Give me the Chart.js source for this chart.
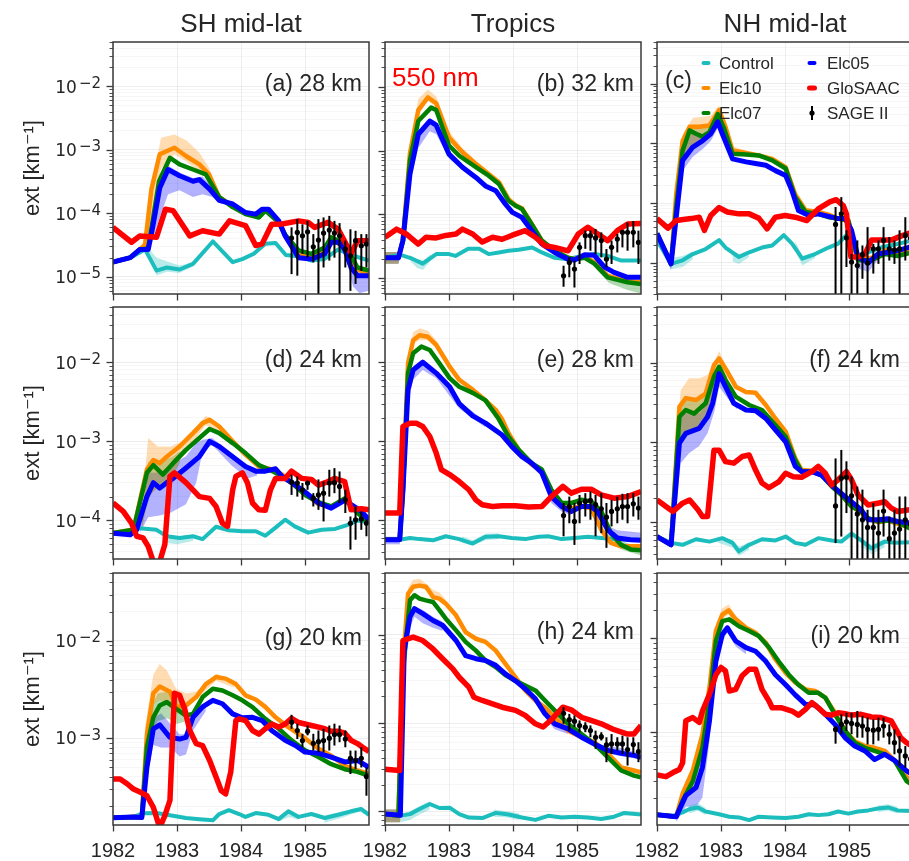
<!DOCTYPE html>
<html>
<head>
<meta charset="utf-8">
<script src="https://cdn.jsdelivr.net/npm/chart.js@4.4.1/dist/chart.umd.min.js"></script>
<style>
  html, body { margin: 0; padding: 0; background: #fff; overflow: hidden; }
  #fig { position: relative; width: 909px; height: 861px; overflow: hidden; }
  #fig canvas { position: absolute; }
</style>
</head>
<body>
<div id="fig"></div>
<script>
// ---- axis labels ----
const columnTitles = ["SH mid-lat", "Tropics", "NH mid-lat"];
const yearTicks = [1982, 1983, 1984, 1985];
const yTop = 0.05;

// SAGE II monthly sample times (shared by all panels)
const sageYears = [1984.79, 1984.88, 1984.96, 1985.04, 1985.13, 1985.21, 1985.29, 1985.38,
  1985.46, 1985.54, 1985.63, 1985.71, 1985.79, 1985.88, 1985.96];

// ---- (a) SH mid-lat, 28 km ----
const ctlA = [[1982.0,1.7e-5],[1982.27,2.0e-5],[1982.5,2.7e-5],[1982.68,1.25e-5],[1982.84,1.4e-5],[1983.04,1.3e-5],[1983.25,1.6e-5],[1983.56,3.6e-5],[1983.87,1.7e-5],[1984.02,1.9e-5],[1984.2,2.3e-5],[1984.38,3.3e-5],[1984.54,3.4e-5],[1984.7,2.2e-5],[1984.9,2.1e-5],[1985.1,1.8e-5],[1985.3,1.9e-5],[1985.52,2.7e-5],[1985.72,2.2e-5],[1986.0,1.8e-5]];
const e10A = [[1982.0,1.7e-5],[1982.27,2.0e-5],[1982.42,2.7e-5],[1982.5,3.2e-5],[1982.6,2.4e-4],[1982.73,8.5e-4],[1982.96,1.08e-3],[1983.14,8.0e-4],[1983.35,5.9e-4],[1983.5,4.1e-4],[1983.66,1.8e-4],[1983.87,1.3e-4],[1984.07,1.0e-4],[1984.28,8.8e-5],[1984.38,1.15e-4],[1984.59,7.2e-5],[1984.69,4.5e-5],[1984.9,2.3e-5],[1985.1,2.2e-5],[1985.31,2.7e-5],[1985.41,3.8e-5],[1985.62,3.0e-5],[1985.82,1.3e-5],[1986.0,1.1e-5]];
const e07A = [[1982.0,1.7e-5],[1982.27,2.0e-5],[1982.42,2.7e-5],[1982.55,2.8e-5],[1982.72,3.2e-4],[1982.89,7.5e-4],[1983.04,5.9e-4],[1983.25,4.9e-4],[1983.45,4.1e-4],[1983.66,1.8e-4],[1983.87,1.25e-4],[1984.07,9.7e-5],[1984.28,8.6e-5],[1984.38,1.1e-4],[1984.59,7.2e-5],[1984.69,4.6e-5],[1984.9,2.6e-5],[1985.1,2.3e-5],[1985.31,2.9e-5],[1985.41,4.2e-5],[1985.62,3.3e-5],[1985.82,1.4e-5],[1986.0,1.25e-5]];
const e05A = [[1982.0,1.7e-5],[1982.27,2.0e-5],[1982.42,2.7e-5],[1982.55,2.7e-5],[1982.6,4.7e-5],[1982.73,2.5e-4],[1982.86,4.9e-4],[1983.04,3.9e-4],[1983.25,3.2e-4],[1983.35,3.4e-4],[1983.51,2.4e-4],[1983.66,1.6e-4],[1983.87,1.4e-4],[1984.07,1.03e-4],[1984.23,9.7e-5],[1984.33,1.16e-4],[1984.43,1.16e-4],[1984.59,7.6e-5],[1984.69,4.4e-5],[1984.9,2.0e-5],[1985.1,1.9e-5],[1985.31,2.3e-5],[1985.41,3.5e-5],[1985.52,3.5e-5],[1985.62,2.7e-5],[1985.72,1.4e-5],[1985.82,1.04e-5],[1986.0,1.04e-5]];
const gloA = [[1982.0,6.0e-5],[1982.29,3.5e-5],[1982.42,4.4e-5],[1982.68,4.2e-5],[1982.82,1.16e-4],[1982.94,1.1e-4],[1983.2,4.4e-5],[1983.4,5.3e-5],[1983.66,4.7e-5],[1983.82,7.6e-5],[1984.07,6.4e-5],[1984.23,3.1e-5],[1984.33,3.3e-5],[1984.48,6.7e-5],[1984.64,6.8e-5],[1984.9,7.6e-5],[1985.05,7.2e-5],[1985.15,6.0e-5],[1985.36,7.2e-5],[1985.52,5.6e-5],[1985.67,2.9e-5],[1985.72,2.3e-5],[1985.82,3.7e-5],[1986.0,3.7e-5]];
const sageA = [[4.07e-5,1.1e-5,6.0e-5],[5.0e-5,1.04e-5,8.1e-5],[4.43e-5,2.3e-5,6.7e-5],[5.1e-5,2.0e-5,7.6e-5],[2.97e-5,1.68e-5,4.7e-5],[3.78e-5,1e-7,8.1e-5],[4.87e-5,1.4e-5,8.6e-5],[5.43e-5,1.8e-5,9.1e-5],[4.87e-5,2.0e-5,7.6e-5],[4.43e-5,1e-7,7.0e-5],[2.73e-5,1.4e-5,3.7e-5],[2.14e-5,6e-6,5.6e-5],[3.7e-5,7.7e-6,5.3e-5],[3.08e-5,1.24e-5,4.7e-5],[3.27e-5,1.4e-5,4.7e-5]];
const bandsA = [
  { of: "ctl", pts: [[1982.55,2.3e-5,2.9e-5],[1982.68,1.05e-5,2.0e-5],[1982.84,1.2e-5,1.75e-5],[1983.04,1.15e-5,1.5e-5],[1983.25,1.45e-5,1.7e-5]] },
  { of: "e10", pts: [[1982.5,3.0e-5,3.4e-5],[1982.65,1.5e-4,4.5e-4],[1982.75,5e-4,1.55e-3],[1982.96,8.5e-4,1.75e-3],[1983.15,6.5e-4,1.4e-3],[1983.35,4.5e-4,9e-4],[1983.5,3.3e-4,5.2e-4],[1983.66,1.6e-4,2.0e-4]] },
  { of: "e05", pts: [[1982.55,2.5e-5,3.0e-5],[1982.68,6e-5,2.0e-4],[1982.86,2.0e-4,5.6e-4],[1983.04,2.3e-4,4.4e-4],[1983.25,1.8e-4,3.6e-4],[1983.4,2.0e-4,3.8e-4],[1983.55,1.8e-4,2.6e-4],[1983.7,1.4e-4,1.7e-4]] },
  { of: "e05", pts: [[1985.62,2.3e-5,3.2e-5],[1985.75,7e-6,1.6e-5],[1985.85,5.5e-6,1.2e-5],[1986.0,6e-6,1.2e-5]] }
];

// ---- (b) Tropics, 32 km ----
const ctlB = [[1982.0,2.1e-5],[1982.23,2.35e-5],[1982.39,2.1e-5],[1982.59,1.7e-5],[1982.8,2.4e-5],[1983.0,2.4e-5],[1983.1,2.25e-5],[1983.3,2.9e-5],[1983.47,2.9e-5],[1983.62,2.4e-5],[1983.78,2.55e-5],[1983.93,2.7e-5],[1984.09,2.8e-5],[1984.3,3.05e-5],[1984.45,2.55e-5],[1984.65,2.1e-5],[1984.86,2.0e-5],[1985.07,2.25e-5],[1985.27,2.4e-5],[1985.48,2.25e-5],[1985.69,1.9e-5],[1986.0,1.9e-5]];
const e10B = [[1982.0,2.1e-5],[1982.21,2.1e-5],[1982.28,4e-5],[1982.39,9e-4],[1982.52,4.3e-3],[1982.67,6.8e-3],[1982.8,5.5e-3],[1983.0,1.6e-3],[1983.21,9.4e-4],[1983.42,6.2e-4],[1983.62,4.3e-4],[1983.78,3.2e-4],[1983.93,1.74e-4],[1984.04,1.4e-4],[1984.14,1.25e-4],[1984.29,7.2e-5],[1984.45,3.9e-5],[1984.65,2.7e-5],[1984.86,2.1e-5],[1984.96,2.0e-5],[1985.12,2.2e-5],[1985.27,1.8e-5],[1985.48,1.1e-5],[1985.79,9e-6],[1986.0,8.7e-6]];
const e07B = [[1982.0,2.1e-5],[1982.21,2.1e-5],[1982.28,3.9e-5],[1982.39,7e-4],[1982.52,2.9e-3],[1982.72,4.7e-3],[1982.8,4.3e-3],[1983.0,1.2e-3],[1983.16,8.3e-4],[1983.42,5.5e-4],[1983.62,4.05e-4],[1983.78,3.0e-4],[1983.93,1.64e-4],[1984.04,1.37e-4],[1984.14,1.22e-4],[1984.29,7.1e-5],[1984.45,3.9e-5],[1984.65,2.7e-5],[1984.86,2.1e-5],[1984.96,2.0e-5],[1985.12,2.1e-5],[1985.27,1.7e-5],[1985.48,1.04e-5],[1985.79,8.7e-6],[1986.0,8.2e-6]];
const e05B = [[1982.0,2.1e-5],[1982.21,2.1e-5],[1982.28,3.9e-5],[1982.39,4.3e-4],[1982.52,1.8e-3],[1982.7,2.9e-3],[1982.8,2.5e-3],[1983.0,8.8e-4],[1983.21,5.5e-4],[1983.42,3.8e-4],[1983.57,2.8e-4],[1983.73,2.36e-4],[1983.88,1.46e-4],[1983.99,1.08e-4],[1984.14,9.0e-5],[1984.29,5.6e-5],[1984.45,3.45e-5],[1984.65,2.55e-5],[1984.86,2.0e-5],[1984.96,1.94e-5],[1985.12,2.35e-5],[1985.27,2.3e-5],[1985.43,1.5e-5],[1985.58,1.24e-5],[1985.79,1.04e-5],[1986.0,1.04e-5]];
const gloB = [[1982.0,4.4e-5],[1982.18,5.9e-5],[1982.34,4.9e-5],[1982.52,3.45e-5],[1982.64,4.4e-5],[1982.8,4.3e-5],[1982.95,4.7e-5],[1983.11,4.95e-5],[1983.21,5.9e-5],[1983.37,4.95e-5],[1983.52,3.7e-5],[1983.68,4.4e-5],[1983.83,4.1e-5],[1983.98,4.7e-5],[1984.19,5.6e-5],[1984.35,4.4e-5],[1984.5,3.25e-5],[1984.65,3.06e-5],[1984.86,2.7e-5],[1985.02,4.95e-5],[1985.17,6.3e-5],[1985.32,5.0e-5],[1985.48,3.9e-5],[1985.63,5.6e-5],[1985.79,7.1e-5],[1986.0,7.2e-5]];
const sageB = [[1.1e-5,7.4e-6,1.58e-5],[1.78e-5,1.04e-5,2.13e-5],[1.4e-5,7.2e-6,1.89e-5],[3.06e-5,1.68e-5,3.66e-5],[4.66e-5,2.9e-5,5.6e-5],[4.66e-5,2.71e-5,5.6e-5],[4.3e-5,2.41e-5,5.93e-5],[3.9e-5,2.13e-5,5.25e-5],[2.01e-5,1.49e-5,2.88e-5],[3.06e-5,1.68e-5,3.9e-5],[4.13e-5,2.55e-5,4.95e-5],[5.25e-5,3.06e-5,5.6e-5],[5.25e-5,2.71e-5,7.5e-5],[5.25e-5,3.06e-5,7.9e-5],[3.66e-5,1.68e-5,5.6e-5]];
const bandsB = [
  { of: "e10", pts: [[1982.0,1.7e-5,2.6e-5],[1982.21,1.7e-5,2.6e-5],[1982.28,3.5e-5,5e-5],[1982.39,6e-4,1.1e-3],[1982.52,3.6e-3,6.5e-3],[1982.67,6.0e-3,9.0e-3],[1982.8,4.8e-3,7.0e-3],[1983.0,1.45e-3,2.0e-3],[1983.21,8.5e-4,1.1e-3],[1983.42,5.8e-4,7.0e-4]] },
  { of: "e07", pts: [[1982.0,1.7e-5,2.6e-5],[1982.21,1.7e-5,2.6e-5],[1982.28,3.5e-5,4.5e-5]] },
  { of: "e05", pts: [[1982.0,1.7e-5,2.6e-5],[1982.21,1.7e-5,2.6e-5],[1982.28,3.2e-5,4.5e-5],[1982.39,3.0e-4,5.0e-4],[1982.52,1.1e-3,2.0e-3],[1982.7,2.0e-3,3.2e-3],[1982.8,1.8e-3,2.8e-3],[1983.0,7.5e-4,9.5e-4],[1983.21,5.0e-4,5.8e-4]] },
  { of: "ctl", pts: [[1982.39,1.9e-5,2.3e-5],[1982.5,1.45e-5,2.0e-5],[1982.59,1.35e-5,1.9e-5],[1982.72,1.9e-5,2.4e-5]] },
  { of: "e07", pts: [[1985.3,1.4e-5,1.8e-5],[1985.5,8.5e-6,1.15e-5],[1985.8,6.5e-6,9.5e-6],[1986.0,5.8e-6,9e-6]] }
];

// ---- (c) NH mid-lat, 28 km ----
const ctlC = [[1982.0,2.4e-5],[1982.22,9.6e-6],[1982.4,1.1e-5],[1982.56,1.4e-5],[1982.76,1.7e-5],[1982.97,2.4e-5],[1983.07,1.8e-5],[1983.28,1.25e-5],[1983.44,1.5e-5],[1983.64,1.8e-5],[1983.8,1.95e-5],[1983.98,2.9e-5],[1984.11,2.1e-5],[1984.27,1.17e-5],[1984.47,1.4e-5],[1984.68,1.8e-5],[1984.83,2.1e-5],[1984.96,2.9e-5],[1985.15,1.2e-5],[1985.3,1.5e-5],[1985.5,1.8e-5],[1985.7,2.0e-5],[1986.0,2.4e-5]];
const e10C = [[1982.0,3.1e-5],[1982.22,9.6e-6],[1982.3,1.4e-4],[1982.4,1.1e-3],[1982.51,1.9e-3],[1982.66,1.9e-3],[1982.82,2.0e-3],[1982.97,3.6e-3],[1983.07,1.9e-3],[1983.18,7.6e-4],[1983.39,6.9e-4],[1983.59,6.3e-4],[1983.8,5.5e-4],[1984.01,4.0e-4],[1984.16,1.4e-4],[1984.32,7.6e-5],[1984.52,7.1e-5],[1984.68,6.4e-5],[1984.83,5.5e-5],[1984.99,5.1e-5],[1985.14,1.2e-5],[1985.35,1.2e-5],[1985.56,1.6e-5],[1985.76,1.5e-5],[1986.0,1.7e-5]];
const e07C = [[1982.0,3.1e-5],[1982.22,9.6e-6],[1982.3,8.6e-5],[1982.4,7.6e-4],[1982.51,1.65e-3],[1982.61,1.45e-3],[1982.71,1.3e-3],[1982.82,1.55e-3],[1982.95,3.1e-3],[1983.05,1.76e-3],[1983.18,6.7e-4],[1983.39,6.5e-4],[1983.59,6.3e-4],[1983.8,5.2e-4],[1984.01,3.8e-4],[1984.16,1.26e-4],[1984.32,7.1e-5],[1984.52,6.6e-5],[1984.68,5.8e-5],[1984.83,5.5e-5],[1984.99,5.1e-5],[1985.14,1.1e-5],[1985.35,1.1e-5],[1985.56,1.4e-5],[1985.76,1.3e-5],[1986.0,1.5e-5]];
const e05C = [[1982.0,3.1e-5],[1982.22,9.6e-6],[1982.3,5.8e-5],[1982.4,5.2e-4],[1982.56,8.7e-4],[1982.71,1.1e-3],[1982.84,1.45e-3],[1982.95,2.3e-3],[1983.02,1.45e-3],[1983.18,5.5e-4],[1983.39,4.9e-4],[1983.54,4.6e-4],[1983.7,4.3e-4],[1983.85,3.5e-4],[1984.01,2.9e-4],[1984.11,1.6e-4],[1984.21,7.5e-5],[1984.37,6.2e-5],[1984.52,6.6e-5],[1984.68,6.0e-5],[1984.83,5.5e-5],[1984.94,5.5e-5],[1985.04,3.5e-5],[1985.14,1.25e-5],[1985.3,1.0e-5],[1985.45,1.4e-5],[1985.61,1.5e-5],[1985.76,1.6e-5],[1986.0,1.9e-5]];
const gloC = [[1982.0,5.5e-5],[1982.17,3.8e-5],[1982.3,5.1e-5],[1982.53,5.5e-5],[1982.66,5.8e-5],[1982.74,3.5e-5],[1982.84,6.2e-5],[1982.97,8.4e-5],[1983.1,7.1e-5],[1983.28,6.6e-5],[1983.44,6.6e-5],[1983.59,5.6e-5],[1983.72,3.7e-5],[1983.85,5.8e-5],[1984.0,6.2e-5],[1984.16,5.8e-5],[1984.34,5.1e-5],[1984.52,8.0e-5],[1984.7,1.05e-4],[1984.8,1.14e-4],[1984.91,9.1e-5],[1984.96,6.6e-5],[1985.03,1.25e-5],[1985.14,1.25e-5],[1985.25,1.4e-5],[1985.35,2.4e-5],[1985.45,2.4e-5],[1985.66,2.4e-5],[1985.81,2.8e-5],[1986.0,3.3e-5]];
const sageC = [[4.4e-5,1e-7,8.6e-5],[6.6e-5,1e-7,1.26e-4],[2.62e-5,8.5e-6,3.5e-5],[1.03e-5,1e-7,1.41e-5],[9.0e-6,1e-7,2.37e-5],[1.38e-5,5.4e-6,1.95e-5],[9.9e-6,1e-7,3.96e-5],[1.72e-5,6.6e-6,2.07e-5],[1.72e-5,9.6e-6,2.37e-5],[2.37e-5,1e-7,3.96e-5],[1.72e-5,1.09e-5,2.7e-5],[1.65e-5,9.6e-6,2.37e-5],[1.72e-5,1e-7,3.5e-5],[2.87e-5,1.09e-5,5.8e-5],[2.6e-5,1.2e-5,4.5e-5]];
const bandsC = [
  { of: "ctl", pts: [[1982.0,2.1e-5,2.7e-5],[1982.22,7.8e-6,1.2e-5],[1982.4,8.5e-6,1.3e-5],[1982.56,1.15e-5,1.55e-5]] },
  { of: "ctl", pts: [[1983.18,1.05e-5,1.55e-5],[1983.28,9.5e-6,1.4e-5],[1983.44,1.25e-5,1.6e-5]] },
  { of: "ctl", pts: [[1984.16,1.6e-5,2.3e-5],[1984.27,9e-6,1.3e-5],[1984.47,1.2e-5,1.5e-5]] },
  { of: "e10", pts: [[1982.22,8e-6,1.1e-5],[1982.3,5e-5,2e-4],[1982.4,5e-4,1.4e-3],[1982.56,8.7e-4,2.7e-3],[1982.71,1.1e-3,2.8e-3],[1982.84,1.45e-3,2.9e-3],[1982.97,2.3e-3,4.3e-3],[1983.07,1.6e-3,2.4e-3],[1983.18,6.5e-4,9e-4],[1983.39,6.3e-4,7.5e-4]] },
  { of: "e07", pts: [[1982.22,8e-6,1.1e-5],[1982.3,5e-5,1.4e-4],[1982.4,5e-4,1.1e-3],[1982.56,8.7e-4,1.9e-3],[1982.71,1.1e-3,1.9e-3],[1982.84,1.45e-3,2.0e-3],[1982.95,2.3e-3,3.6e-3],[1983.07,1.5e-3,1.9e-3],[1983.18,6.0e-4,7.5e-4]] },
  { of: "e05", pts: [[1982.0,2.6e-5,3.6e-5],[1982.22,7.5e-6,1.1e-5],[1982.3,4e-5,8.6e-5],[1982.4,3.5e-4,7.6e-4],[1982.56,6e-4,1.65e-3],[1982.71,8e-4,1.3e-3],[1982.84,1.1e-3,1.55e-3],[1982.95,1.8e-3,3.1e-3],[1983.02,1.2e-3,1.76e-3],[1983.18,4.8e-4,6.7e-4]] },
  { of: "e05", pts: [[1984.99,4.5e-5,5.5e-5],[1985.14,8e-6,1.3e-5],[1985.3,7e-6,1.1e-5],[1985.45,1.1e-5,1.5e-5]] }
];

// ---- (d) SH mid-lat, 24 km ----
const ctlD = [[1982.0,6.9e-5],[1982.3,6.9e-5],[1982.37,8.0e-5],[1982.68,7.6e-5],[1982.84,6.3e-5],[1983.04,5.98e-5],[1983.25,6.3e-5],[1983.4,5.8e-5],[1983.61,8.3e-5],[1983.81,7.5e-5],[1984.02,7.3e-5],[1984.23,7.3e-5],[1984.38,6.4e-5],[1984.54,8.1e-5],[1984.69,1.02e-4],[1984.84,8.4e-5],[1985.05,7.0e-5],[1985.26,7.6e-5],[1985.47,7.8e-5],[1985.67,8.8e-5],[1985.82,1.0e-4],[1986.0,9.5e-5]];
const e10D = [[1982.0,6.9e-5],[1982.32,7.6e-5],[1982.53,4.4e-4],[1982.63,5.8e-4],[1982.73,5.3e-4],[1982.84,6.4e-4],[1983.04,8.6e-4],[1983.25,1.27e-3],[1983.4,1.7e-3],[1983.51,1.87e-3],[1983.66,1.54e-3],[1983.87,1.0e-3],[1984.07,6.8e-4],[1984.28,4.8e-4],[1984.49,4.4e-4],[1984.64,3.8e-4],[1984.79,3.0e-4],[1985.0,2.2e-4],[1985.21,1.6e-4],[1985.41,1.5e-4],[1985.62,1.8e-4],[1985.77,1.45e-4],[1986.0,1.0e-4]];
const e07D = [[1982.0,6.9e-5],[1982.32,7.6e-5],[1982.53,4.0e-4],[1982.63,5.0e-4],[1982.78,3.8e-4],[1982.94,5.3e-4],[1983.14,7.8e-4],[1983.35,1.1e-3],[1983.51,1.43e-3],[1983.66,1.27e-3],[1983.87,9.5e-4],[1984.07,7.1e-4],[1984.28,5.0e-4],[1984.49,4.2e-4],[1984.64,3.6e-4],[1984.79,3.0e-4],[1985.0,2.1e-4],[1985.21,1.7e-4],[1985.41,1.5e-4],[1985.62,1.9e-4],[1985.77,1.36e-4],[1986.0,9.2e-5]];
const e05D = [[1982.0,6.9e-5],[1982.27,6.6e-5],[1982.37,7.6e-5],[1982.53,2.0e-4],[1982.63,3.0e-4],[1982.73,2.56e-4],[1982.84,3.0e-4],[1982.94,3.4e-4],[1983.14,4.6e-4],[1983.35,6.4e-4],[1983.51,1.0e-3],[1983.66,8.6e-4],[1983.87,6.4e-4],[1984.07,4.8e-4],[1984.23,4.2e-4],[1984.38,4.2e-4],[1984.54,4.5e-4],[1984.64,3.6e-4],[1984.79,3.0e-4],[1985.0,2.3e-4],[1985.21,1.66e-4],[1985.41,1.43e-4],[1985.62,1.8e-4],[1985.77,1.5e-4],[1985.88,1.3e-4],[1986.0,1.02e-4]];
const gloD = [[1982.0,1.66e-4],[1982.16,1.3e-4],[1982.29,9.2e-5],[1982.37,6.3e-5],[1982.47,6.0e-5],[1982.55,4.7e-5],[1982.63,3.0e-5],[1982.73,3.0e-5],[1982.81,5e-5],[1982.89,3.6e-4],[1982.96,4.0e-4],[1983.14,3.0e-4],[1983.35,2.0e-4],[1983.51,1.9e-4],[1983.61,1.5e-4],[1983.71,9.2e-5],[1983.79,8.4e-5],[1983.87,2.44e-4],[1983.92,3.6e-4],[1984.02,4.0e-4],[1984.1,3.0e-4],[1984.18,1.66e-4],[1984.28,1.36e-4],[1984.38,1.34e-4],[1984.46,2.44e-4],[1984.54,3.4e-4],[1984.69,3.4e-4],[1984.79,4.2e-4],[1984.95,3.4e-4],[1985.1,3.3e-4],[1985.21,2.8e-4],[1985.36,3.1e-4],[1985.46,3.4e-4],[1985.62,3.1e-4],[1985.72,1.36e-4],[1985.88,1.4e-4],[1986.0,1.36e-4]];
const sageD = [[3.05e-4,2.1e-4,3.78e-4],[2.97e-4,2.0e-4,3.6e-4],[2.44e-4,1.82e-4,2.97e-4],[2.97e-4,2.44e-4,3.1e-4],[1.91e-4,1.5e-4,2.21e-4],[2.1e-4,1.36e-4,3.3e-4],[2.21e-4,9.7e-5,3.1e-4],[2.97e-4,2.0e-4,4.37e-4],[3.0e-4,2.21e-4,4.58e-4],[2.69e-4,1.66e-4,4.16e-4],[1.82e-4,1.24e-4,2.44e-4],[9.2e-5,4.27e-5,1.12e-4],[1.02e-4,5.7e-5,1.5e-4],[1.04e-4,7.6e-5,1.3e-4],[9.2e-5,6.3e-5,1.02e-4]];
const bandsD = [
  { of: "ctl", pts: [[1982.8,5.2e-5,6.5e-5],[1983.0,5.0e-5,6.3e-5],[1983.25,5.5e-5,6.5e-5]] },
  { of: "e10", pts: [[1982.45,7.5e-5,1.5e-4],[1982.55,2.0e-4,1.1e-3],[1982.7,2.6e-4,8.6e-4],[1982.9,3.2e-4,8.6e-4],[1983.1,7e-4,1.0e-3],[1983.3,1.1e-3,1.5e-3],[1983.45,1.6e-3,2.1e-3],[1983.6,1.4e-3,1.8e-3],[1983.85,9e-4,1.1e-3]] },
  { of: "e07", pts: [[1982.45,7.5e-5,1.3e-4],[1982.55,2.0e-4,5.5e-4],[1982.7,2.6e-4,5.5e-4],[1982.9,3.2e-4,6.2e-4],[1983.05,5.5e-4,7.5e-4]] },
  { of: "e05", pts: [[1982.42,7e-5,9e-5],[1982.55,1.1e-4,4.0e-4],[1982.73,1.15e-4,4.0e-4],[1982.9,1.25e-4,5.0e-4],[1983.14,1.6e-4,6.5e-4],[1983.3,3.0e-4,9.5e-4],[1983.4,7.5e-4,1.05e-3],[1983.55,9.0e-4,1.1e-3],[1983.85,5.0e-4,7.0e-4],[1984.1,3.4e-4,5.0e-4],[1984.25,3.7e-4,4.5e-4]] }
];

// ---- (e) Tropics, 28 km ----
const ctlE = [[1982.0,5.7e-5],[1982.23,5.7e-5],[1982.39,6.0e-5],[1982.54,5.8e-5],[1982.75,5.6e-5],[1982.95,6.3e-5],[1983.16,5.8e-5],[1983.37,5.1e-5],[1983.57,6.2e-5],[1983.78,6.3e-5],[1983.98,6.0e-5],[1984.19,5.8e-5],[1984.4,6.2e-5],[1984.55,6.3e-5],[1984.76,5.8e-5],[1984.96,6.0e-5],[1985.17,6.2e-5],[1985.38,6.0e-5],[1985.58,5.8e-5],[1985.79,5.7e-5],[1986.0,5.7e-5]];
const e10E = [[1982.0,5.7e-5],[1982.23,5.7e-5],[1982.28,2.4e-4],[1982.36,9.7e-3],[1982.44,1.9e-2],[1982.54,2.2e-2],[1982.67,2.1e-2],[1982.8,1.66e-2],[1983.01,8.8e-3],[1983.16,6.0e-3],[1983.37,4.5e-3],[1983.57,3.3e-3],[1983.73,2.5e-3],[1983.83,1.9e-3],[1983.93,1.27e-3],[1984.09,7.8e-4],[1984.29,5.1e-4],[1984.45,4.2e-4],[1984.6,2.2e-4],[1984.76,1.5e-4],[1984.91,1.43e-4],[1985.07,1.5e-4],[1985.22,1.43e-4],[1985.38,7.6e-5],[1985.53,5.2e-5],[1985.69,4.7e-5],[1986.0,4.7e-5]];
const e07E = [[1982.0,5.7e-5],[1982.23,5.7e-5],[1982.28,2.4e-4],[1982.36,7.3e-3],[1982.44,1.3e-2],[1982.57,1.58e-2],[1982.7,1.43e-2],[1982.85,9.7e-3],[1983.01,6.3e-3],[1983.16,4.9e-3],[1983.37,4.1e-3],[1983.57,3.3e-3],[1983.78,1.9e-3],[1983.93,1.15e-3],[1984.09,7.8e-4],[1984.29,5.3e-4],[1984.45,4.4e-4],[1984.6,2.44e-4],[1984.76,1.66e-4],[1984.91,1.66e-4],[1985.07,1.82e-4],[1985.22,1.74e-4],[1985.38,1.3e-4],[1985.53,6.9e-5],[1985.69,4.9e-5],[1985.84,4.3e-5],[1986.0,4.2e-5]];
const e05E = [[1982.0,5.7e-5],[1982.23,5.7e-5],[1982.28,2.4e-4],[1982.36,4.5e-3],[1982.44,8.0e-3],[1982.59,1.0e-2],[1982.8,7.3e-3],[1983.01,4.9e-3],[1983.16,3.0e-3],[1983.37,2.1e-3],[1983.57,1.7e-3],[1983.83,1.2e-3],[1983.98,8.6e-4],[1984.14,6.4e-4],[1984.29,5.3e-4],[1984.45,4.0e-4],[1984.6,2.0e-4],[1984.76,1.5e-4],[1984.91,1.3e-4],[1985.07,1.5e-4],[1985.22,1.5e-4],[1985.32,1.3e-4],[1985.48,7.6e-5],[1985.63,6.0e-5],[1985.84,5.7e-5],[1986.0,5.6e-5]];
const gloE = [[1982.0,1.24e-4],[1982.23,1.24e-4],[1982.28,1.54e-3],[1982.39,1.69e-3],[1982.49,1.69e-3],[1982.59,1.54e-3],[1982.7,1.15e-3],[1982.8,7.1e-4],[1982.88,4.4e-4],[1983.01,3.8e-4],[1983.16,3.1e-4],[1983.31,2.44e-4],[1983.42,1.82e-4],[1983.52,1.58e-4],[1983.68,1.5e-4],[1983.83,1.53e-4],[1984.04,1.53e-4],[1984.24,1.48e-4],[1984.45,1.5e-4],[1984.6,2.0e-4],[1984.78,2.69e-4],[1984.91,2.21e-4],[1985.07,2.48e-4],[1985.22,2.48e-4],[1985.38,2.1e-4],[1985.58,1.91e-4],[1985.79,2.0e-4],[1986.0,2.32e-4]];
const sageE = [[1.15e-4,6.3e-5,1.66e-4],[1.5e-4,9.2e-5,2.0e-4],[9.7e-5,4.9e-5,1.66e-4],[1.66e-4,9.2e-5,2.1e-4],[1.74e-4,1.12e-4,2.21e-4],[1.79e-4,1.02e-4,2.32e-4],[1.58e-4,6.3e-5,2.1e-4],[1.4e-4,6.9e-5,2.21e-4],[1.1e-4,4.5e-5,1.66e-4],[1.3e-4,8.4e-5,1.82e-4],[1.4e-4,9.2e-5,2.0e-4],[1.5e-4,1.02e-4,2.17e-4],[1.5e-4,9.2e-5,2.21e-4],[1.62e-4,1.12e-4,2.21e-4],[1.43e-4,1.02e-4,2.0e-4]];
const bandsE = [
  { of: "ctl", pts: [[1983.2,5.2e-5,6.3e-5],[1983.37,4.8e-5,5.6e-5],[1983.57,5.6e-5,6.8e-5],[1983.78,5.8e-5,6.9e-5]] },
  { of: "e10", pts: [[1982.36,8e-3,1.2e-2],[1982.44,1.7e-2,2.4e-2],[1982.54,1.9e-2,2.7e-2],[1982.67,1.9e-2,2.5e-2],[1982.8,1.5e-2,1.9e-2],[1983.01,8e-3,1e-2]] },
  { of: "e07", pts: [[1985.53,6e-5,7.5e-5],[1985.69,4.3e-5,5.5e-5],[1986.0,3.6e-5,4.5e-5]] },
  { of: "e05", pts: [[1982.0,5.0e-5,6.2e-5],[1982.23,5.0e-5,6.2e-5],[1982.28,1.5e-4,3e-4],[1982.36,3e-3,5e-3],[1982.44,6e-3,9e-3],[1982.59,8e-3,1.1e-2],[1982.8,6.3e-3,8e-3],[1983.16,2.6e-3,3.2e-3],[1983.57,1.5e-3,1.8e-3]] },
  { of: "e05", pts: [[1984.45,3.5e-4,4.3e-4],[1984.6,1.65e-4,2.3e-4],[1984.76,1.3e-4,1.65e-4],[1984.91,1.15e-4,1.4e-4]] },
  { of: "e05", pts: [[1985.48,6.5e-5,8.5e-5],[1985.63,5.5e-5,7.5e-5],[1986.0,5.4e-5,7e-5]] }
];

// ---- (f) NH mid-lat, 24 km ----
const ctlF = [[1982.0,6.6e-5],[1982.22,5.5e-5],[1982.4,5.2e-5],[1982.61,6.1e-5],[1982.82,5.7e-5],[1983.02,6.3e-5],[1983.18,5.5e-5],[1983.28,4.3e-5],[1983.44,5.2e-5],[1983.64,6.1e-5],[1983.85,5.9e-5],[1984.01,6.6e-5],[1984.16,5.5e-5],[1984.32,5.2e-5],[1984.52,6.3e-5],[1984.73,5.9e-5],[1984.88,5.7e-5],[1985.04,7.2e-5],[1985.19,5.9e-5],[1985.35,4.7e-5],[1985.56,5.7e-5],[1985.71,5.5e-5],[1986.0,5.6e-5]];
const e10F = [[1982.0,6.6e-5],[1982.22,5.2e-5],[1982.35,2.8e-3],[1982.45,3.6e-3],[1982.61,3.4e-3],[1982.76,4.1e-3],[1982.89,9.3e-3],[1982.97,1.13e-2],[1983.1,7.7e-3],[1983.23,5.0e-3],[1983.39,4.3e-3],[1983.54,4.2e-3],[1983.7,2.95e-3],[1983.85,2.0e-3],[1984.01,1.37e-3],[1984.16,6.3e-4],[1984.26,4.5e-4],[1984.42,4.4e-4],[1984.57,3.9e-4],[1984.73,2.9e-4],[1984.88,2.2e-4],[1985.04,1.6e-4],[1985.19,1.3e-4],[1985.3,1.1e-4],[1985.45,1.0e-4],[1985.61,1.05e-4],[1985.76,9.5e-5],[1986.0,8.5e-5]];
const e07F = [[1982.0,6.6e-5],[1982.22,5.2e-5],[1982.35,2.1e-3],[1982.45,2.55e-3],[1982.58,2.3e-3],[1982.76,3.1e-3],[1982.89,6.7e-3],[1982.97,8.9e-3],[1983.07,6.1e-3],[1983.23,3.75e-3],[1983.44,2.95e-3],[1983.64,2.55e-3],[1983.85,1.66e-3],[1984.01,1.18e-3],[1984.16,6.0e-4],[1984.26,4.3e-4],[1984.42,4.3e-4],[1984.57,3.9e-4],[1984.73,2.8e-4],[1984.88,2.2e-4],[1985.04,1.57e-4],[1985.19,1.36e-4],[1985.3,1.12e-4],[1985.45,1.02e-4],[1985.61,1.05e-4],[1985.76,1.0e-4],[1986.0,8.0e-5]];
const e05F = [[1982.0,6.6e-5],[1982.22,5.2e-5],[1982.35,9.8e-4],[1982.45,1.3e-3],[1982.66,1.5e-3],[1982.79,2.1e-3],[1982.87,3.1e-3],[1982.97,7.3e-3],[1983.07,5.0e-3],[1983.2,3.1e-3],[1983.39,2.55e-3],[1983.54,2.5e-3],[1983.7,2.0e-3],[1983.85,1.44e-3],[1984.01,1.02e-3],[1984.16,5.0e-4],[1984.26,4.3e-4],[1984.42,4.3e-4],[1984.57,3.9e-4],[1984.73,2.9e-4],[1984.88,2.3e-4],[1985.04,1.8e-4],[1985.19,1.43e-4],[1985.3,1.07e-4],[1985.45,1.07e-4],[1985.61,1.1e-4],[1985.76,1.02e-4],[1986.0,9.7e-5]];
const gloF = [[1982.0,1.9e-4],[1982.14,1.57e-4],[1982.25,1.36e-4],[1982.4,1.73e-4],[1982.51,1.9e-4],[1982.64,1.43e-4],[1982.71,1.18e-4],[1982.79,1.18e-4],[1982.89,8.0e-4],[1982.97,8.0e-4],[1983.07,5.75e-4],[1983.2,5.5e-4],[1983.33,6.65e-4],[1983.44,6.95e-4],[1983.54,4.5e-4],[1983.64,3.1e-4],[1983.75,2.7e-4],[1983.9,3.2e-4],[1984.01,4.1e-4],[1984.13,3.7e-4],[1984.26,3.66e-4],[1984.42,4.3e-4],[1984.52,5.0e-4],[1984.63,4.1e-4],[1984.73,2.94e-4],[1984.83,3.4e-4],[1984.96,4.3e-4],[1985.04,3.4e-4],[1985.14,2.2e-4],[1985.3,1.64e-4],[1985.45,1.73e-4],[1985.56,1.8e-4],[1985.66,1.5e-4],[1985.76,1.36e-4],[1986.0,1.45e-4]];
const sageF = [[1.6e-4,5.46e-5,6.3e-4],[3.56e-4,6.6e-5,8.05e-4],[3.66e-4,1.3e-4,5.8e-4],[2.14e-4,1e-6,3.73e-4],[1.27e-4,1e-6,2.8e-4],[1.07e-4,1e-6,2.56e-4],[8.6e-5,1e-6,1.43e-4],[8.6e-5,1e-6,1.73e-4],[7.3e-5,1e-6,1.43e-4],[1.38e-4,6.6e-5,2.56e-4],[6.2e-5,1e-6,1.18e-4],[7.3e-5,1e-6,1.43e-4],[8.2e-5,1e-6,2.1e-4],[1.07e-4,1e-6,2.1e-4],[9.5e-5,1e-6,2.0e-4]];
const bandsF = [
  { of: "ctl", pts: [[1982.95,5.5e-5,6.6e-5],[1983.18,4.8e-5,6.0e-5],[1983.28,3.8e-5,4.9e-5],[1983.44,4.5e-5,5.6e-5]] },
  { of: "ctl", pts: [[1985.19,5.0e-5,6.3e-5],[1985.35,4.0e-5,5.2e-5],[1985.56,4.8e-5,6.2e-5]] },
  { of: "e10", pts: [[1982.3,3e-4,1.0e-3],[1982.37,1.0e-3,4.5e-3],[1982.5,1.3e-3,6.4e-3],[1982.66,1.5e-3,6.4e-3],[1982.79,2.1e-3,7.0e-3],[1982.9,3.5e-3,1.05e-2],[1982.97,7.3e-3,1.4e-2],[1983.1,6.5e-3,8.5e-3],[1983.25,4.8e-3,5.5e-3]] },
  { of: "e07", pts: [[1982.3,2e-4,8e-4],[1982.37,1.0e-3,2.8e-3],[1982.5,1.3e-3,3.6e-3],[1982.66,1.5e-3,3.4e-3],[1982.79,2.1e-3,4.1e-3],[1982.9,3.5e-3,8.0e-3]] },
  { of: "e05", pts: [[1982.3,1.5e-4,6e-4],[1982.37,5.5e-4,2.1e-3],[1982.5,7.3e-4,2.5e-3],[1982.66,9.0e-4,2.3e-3],[1982.79,1.3e-3,3.1e-3],[1982.9,2.5e-3,6e-3],[1982.97,5.0e-3,7.5e-3],[1983.1,3.6e-3,4.8e-3],[1983.25,2.6e-3,3.1e-3]] }
];

// ---- (g) SH mid-lat, 20 km ----
const ctlG = [[1982.0,1.53e-4],[1982.32,1.55e-4],[1982.47,1.69e-4],[1982.68,1.7e-4],[1982.89,1.61e-4],[1983.14,1.51e-4],[1983.35,1.47e-4],[1983.56,1.43e-4],[1983.66,1.66e-4],[1983.81,1.82e-4],[1983.97,1.66e-4],[1984.07,1.55e-4],[1984.23,1.7e-4],[1984.43,1.63e-4],[1984.59,1.47e-4],[1984.74,1.77e-4],[1984.9,1.55e-4],[1985.1,1.66e-4],[1985.31,1.51e-4],[1985.52,1.63e-4],[1985.72,1.77e-4],[1985.88,1.87e-4],[1986.0,1.63e-4]];
const e10G = [[1982.0,1.52e-4],[1982.32,1.55e-4],[1982.45,1.53e-4],[1982.53,1.1e-3],[1982.63,2.9e-3],[1982.73,3.4e-3],[1982.89,3.0e-3],[1982.99,2.1e-3],[1983.14,2.17e-3],[1983.3,2.65e-3],[1983.45,3.6e-3],[1983.61,4.25e-3],[1983.76,4.1e-3],[1983.92,3.6e-3],[1984.07,2.76e-3],[1984.23,2.5e-3],[1984.38,2.1e-3],[1984.54,1.64e-3],[1984.74,1.3e-3],[1985.0,1.0e-3],[1985.21,7.8e-4],[1985.41,6.6e-4],[1985.62,5.2e-4],[1985.82,4.65e-4],[1986.0,4.3e-4]];
const e07G = [[1982.0,1.52e-4],[1982.32,1.55e-4],[1982.45,1.53e-4],[1982.53,8.1e-4],[1982.63,1.64e-3],[1982.73,2.17e-3],[1982.84,2.35e-3],[1982.99,2.0e-3],[1983.14,1.71e-3],[1983.25,1.78e-3],[1983.4,2.65e-3],[1983.56,3.23e-3],[1983.71,3.1e-3],[1983.87,2.76e-3],[1984.02,2.45e-3],[1984.18,2.09e-3],[1984.38,1.58e-3],[1984.59,1.25e-3],[1984.79,9.5e-4],[1985.0,7.5e-4],[1985.21,6.4e-4],[1985.41,5.4e-4],[1985.62,4.8e-4],[1985.82,4.5e-4],[1986.0,4.1e-4]];
const e05G = [[1982.0,1.52e-4],[1982.32,1.55e-4],[1982.45,1.53e-4],[1982.53,5.0e-4],[1982.63,1.25e-3],[1982.73,1.37e-3],[1982.89,1.02e-3],[1983.04,9.8e-4],[1983.14,1.02e-3],[1983.25,1.64e-3],[1983.4,2.1e-3],[1983.56,2.45e-3],[1983.71,2.26e-3],[1983.87,1.78e-3],[1984.02,1.62e-3],[1984.18,1.64e-3],[1984.33,1.52e-3],[1984.48,1.2e-3],[1984.69,9.5e-4],[1984.85,8.4e-4],[1985.0,7.2e-4],[1985.21,7.0e-4],[1985.41,6.4e-4],[1985.62,5.7e-4],[1985.82,5.9e-4],[1986.0,5.0e-4]];
const gloG = [[1982.0,3.8e-4],[1982.11,3.8e-4],[1982.22,3.4e-4],[1982.32,3.0e-4],[1982.42,2.8e-4],[1982.53,2.56e-4],[1982.63,1.95e-4],[1982.73,1.2e-4],[1982.81,1.6e-4],[1982.89,2.3e-4],[1982.96,2.9e-3],[1983.04,2.76e-3],[1983.12,2.0e-3],[1983.2,1.2e-3],[1983.3,8.8e-4],[1983.4,8.4e-4],[1983.51,5.9e-4],[1983.61,4.0e-4],[1983.69,2.9e-4],[1983.76,2.67e-4],[1983.84,4.5e-4],[1983.92,1.52e-3],[1983.97,1.58e-3],[1984.07,1.52e-3],[1984.18,1.2e-3],[1984.28,1.1e-3],[1984.38,1.25e-3],[1984.48,1.4e-3],[1984.59,1.3e-3],[1984.69,1.4e-3],[1984.79,1.6e-3],[1984.9,1.45e-3],[1985.0,1.4e-3],[1985.1,1.35e-3],[1985.21,1.3e-3],[1985.31,1.25e-3],[1985.41,1.18e-3],[1985.52,1.18e-3],[1985.62,1.13e-3],[1985.72,9.5e-4],[1985.82,8.8e-4],[1985.93,7.8e-4],[1986.0,7.3e-4]];
const sageG = [[1.46e-3,1.25e-3,1.74e-3],[1.2e-3,9.8e-4,1.41e-3],[9.46e-4,8.07e-4,1.11e-3],[1.18e-3,1.07e-3,1.35e-3],[8.87e-4,7.46e-4,1.11e-3],[9.2e-4,7.18e-4,1.2e-3],[9.46e-4,7.18e-4,1.25e-3],[1.0e-3,7.46e-4,1.35e-3],[1.09e-3,8.4e-4,1.41e-3],[1.09e-3,9.1e-4,1.35e-3],[9.8e-4,8.07e-4,1.2e-3],[6.22e-4,4.28e-4,7.46e-4],[5.89e-4,4.83e-4,7.46e-4],[6.22e-4,5.0e-4,8.07e-4],[4.03e-4,2.56e-4,5.0e-4]];
const bandsG = [
  { of: "ctl", pts: [[1984.6,1.4e-4,1.6e-4],[1984.75,1.55e-4,1.85e-4],[1984.9,1.45e-4,1.65e-4]] },
  { of: "ctl", pts: [[1985.3,1.35e-4,1.6e-4],[1985.55,1.5e-4,1.75e-4],[1985.85,1.75e-4,1.95e-4],[1986.0,1.55e-4,1.75e-4]] },
  { of: "e10", pts: [[1982.5,3e-4,1.3e-3],[1982.63,2.2e-3,4.5e-3],[1982.73,2.5e-3,5.8e-3],[1982.84,2.2e-3,5.0e-3],[1982.99,1.8e-3,3.2e-3],[1983.14,2.0e-3,2.9e-3],[1983.3,2.5e-3,3.0e-3],[1983.61,3.9e-3,4.6e-3],[1983.9,3.3e-3,3.9e-3]] },
  { of: "e07", pts: [[1982.55,8e-4,1.8e-3],[1982.7,1.5e-3,2.9e-3],[1982.85,1.6e-3,3.0e-3],[1983.0,1.4e-3,2.6e-3],[1983.15,1.5e-3,2.0e-3]] },
  { of: "e05", pts: [[1982.5,3e-4,7e-4],[1982.63,8.5e-4,1.6e-3],[1982.75,8.0e-4,1.8e-3],[1982.9,8.0e-4,1.4e-3],[1983.04,6.5e-4,1.1e-3],[1983.14,6.8e-4,1.1e-3],[1983.25,1.2e-3,1.8e-3],[1983.45,1.9e-3,2.3e-3]] }
];

// ---- (h) Tropics, 24 km ----
const ctlH = [[1982.0,9.3e-5],[1982.23,8.9e-5],[1982.39,9.3e-5],[1982.54,1.06e-4],[1982.7,1.21e-4],[1982.85,1.09e-4],[1983.01,1.1e-4],[1983.16,9.3e-5],[1983.31,8.5e-5],[1983.52,8.4e-5],[1983.73,9.6e-5],[1983.93,9.2e-5],[1984.14,8.5e-5],[1984.35,8.0e-5],[1984.55,8.9e-5],[1984.76,8.5e-5],[1984.96,8.7e-5],[1985.17,8.5e-5],[1985.38,8.2e-5],[1985.58,8.7e-5],[1985.74,9.6e-5],[1986.0,9.2e-5]];
const e10H = [[1982.0,9.3e-5],[1982.21,8.9e-5],[1982.28,4.5e-3],[1982.36,2.9e-2],[1982.44,3.5e-2],[1982.54,3.6e-2],[1982.64,3.5e-2],[1982.75,2.67e-2],[1982.85,2.56e-2],[1982.95,2.25e-2],[1983.11,1.66e-2],[1983.26,1.07e-2],[1983.42,9.0e-3],[1983.57,8.3e-3],[1983.73,6.6e-3],[1983.88,4.7e-3],[1984.04,3.3e-3],[1984.19,2.34e-3],[1984.35,1.8e-3],[1984.5,1.5e-3],[1984.65,1.16e-3],[1984.86,8.2e-4],[1985.07,6.9e-4],[1985.27,6.1e-4],[1985.48,4.5e-4],[1985.69,3.15e-4],[1985.89,2.9e-4],[1986.0,2.77e-4]];
const e07H = [[1982.0,9.3e-5],[1982.21,8.9e-5],[1982.28,4.0e-3],[1982.39,2.45e-2],[1982.46,2.8e-2],[1982.54,2.56e-2],[1982.64,2.45e-2],[1982.75,2.35e-2],[1982.85,1.9e-2],[1982.95,1.52e-2],[1983.11,1.12e-2],[1983.26,8.3e-3],[1983.42,6.6e-3],[1983.57,5.1e-3],[1983.73,4.3e-3],[1983.88,3.5e-3],[1984.04,3.0e-3],[1984.19,2.66e-3],[1984.35,2.34e-3],[1984.5,1.8e-3],[1984.65,1.39e-3],[1984.86,9.8e-4],[1985.07,7.5e-4],[1985.27,5.8e-4],[1985.48,4.1e-4],[1985.69,2.9e-4],[1985.89,2.54e-4],[1986.0,2.43e-4]];
const e05H = [[1982.0,9.3e-5],[1982.24,9.0e-5],[1982.3,6.6e-3],[1982.39,1.6e-2],[1982.46,1.97e-2],[1982.59,1.73e-2],[1982.75,1.45e-2],[1982.9,1.28e-2],[1983.11,8.6e-3],[1983.26,5.8e-3],[1983.42,5.35e-3],[1983.57,5.1e-3],[1983.73,4.5e-3],[1983.88,3.6e-3],[1984.04,3.0e-3],[1984.19,2.44e-3],[1984.35,1.88e-3],[1984.5,1.27e-3],[1984.65,9.8e-4],[1984.86,8.6e-4],[1985.07,6.9e-4],[1985.27,5.8e-4],[1985.48,4.9e-4],[1985.69,4.55e-4],[1985.89,4.3e-4],[1986.0,4.1e-4]];
const gloH = [[1982.0,3.0e-4],[1982.23,2.9e-4],[1982.28,8.6e-3],[1982.44,9.4e-3],[1982.59,8.6e-3],[1982.75,6.9e-3],[1982.9,5.35e-3],[1983.06,4.1e-3],[1983.16,3.3e-3],[1983.31,2.55e-3],[1983.39,1.96e-3],[1983.52,1.8e-3],[1983.68,1.65e-3],[1983.83,1.51e-3],[1984.04,1.39e-3],[1984.19,1.22e-3],[1984.35,9.8e-4],[1984.47,9.0e-4],[1984.6,1.09e-3],[1984.78,1.51e-3],[1984.91,1.41e-3],[1985.07,1.16e-3],[1985.22,1.07e-3],[1985.38,9.8e-4],[1985.58,8.4e-4],[1985.79,7.5e-4],[1985.89,7.5e-4],[1986.0,9.4e-4]];
const sageH = [[1.29e-3,9.8e-4,1.51e-3],[1.09e-3,8.2e-4,1.27e-3],[1.05e-3,9.0e-4,1.22e-3],[9.37e-4,7.87e-4,1.07e-3],[8.97e-4,7.87e-4,1.02e-3],[8.22e-4,6.9e-4,9.4e-4],[6.9e-4,5.1e-4,8.2e-4],[7.0e-4,6.34e-4,7.87e-4],[5.65e-4,3.6e-4,6.9e-4],[5.8e-4,4.47e-4,7.5e-4],[5.8e-4,4.9e-4,6.9e-4],[5.8e-4,4.47e-4,7.2e-4],[5.0e-4,3.3e-4,6.9e-4],[5.7e-4,4.47e-4,6.9e-4],[4.75e-4,3.6e-4,6.06e-4]];
const bandsH = [
  { of: "ctl", pts: [[1982.25,7.5e-5,9.3e-5],[1982.39,8e-5,1.0e-4],[1982.54,9.2e-5,1.15e-4],[1982.7,1.05e-4,1.3e-4]] },
  { of: "ctl", pts: [[1983.7,8.7e-5,1.05e-4],[1983.9,8.5e-5,1.0e-4],[1984.1,8e-5,9.5e-5]] },
  { of: "e10", pts: [[1982.0,7.5e-5,1.05e-4],[1982.24,7.5e-5,1.05e-4],[1982.28,4e-3,6e-3],[1982.36,2.6e-2,3.4e-2],[1982.44,3.3e-2,4.2e-2],[1982.54,3.4e-2,4.3e-2],[1982.64,3.2e-2,3.8e-2],[1982.75,2.6e-2,3.2e-2],[1982.85,2.5e-2,3.0e-2],[1982.95,2.1e-2,2.5e-2]] },
  { of: "e07", pts: [[1982.0,7.5e-5,1.05e-4],[1982.24,7.5e-5,1.05e-4]] },
  { of: "e05", pts: [[1982.0,7.5e-5,1.05e-4],[1982.24,7.5e-5,1.05e-4],[1982.3,3e-3,7e-3],[1982.39,1.2e-2,1.8e-2],[1982.46,1.6e-2,2.1e-2],[1982.59,1.35e-2,1.9e-2],[1982.75,1.2e-2,1.6e-2],[1982.9,1.1e-2,1.4e-2]] },
  { of: "e05", pts: [[1984.5,1.15e-3,1.35e-3],[1984.65,8.5e-4,1.05e-3],[1984.86,7.5e-4,9e-4]] },
  { of: "e05", pts: [[1985.48,4.5e-4,5.5e-4],[1985.69,4.2e-4,5.2e-4],[1986.0,3.9e-4,4.5e-4]] }
];

// ---- (i) NH mid-lat, 20 km ----
const ctlI = [[1982.0,1.31e-4],[1982.25,1.28e-4],[1982.4,1.39e-4],[1982.51,1.51e-4],[1982.64,1.57e-4],[1982.76,1.42e-4],[1982.97,1.33e-4],[1983.13,1.25e-4],[1983.28,1.23e-4],[1983.44,1.15e-4],[1983.59,1.25e-4],[1983.8,1.23e-4],[1984.01,1.21e-4],[1984.21,1.25e-4],[1984.37,1.33e-4],[1984.52,1.3e-4],[1984.68,1.33e-4],[1984.83,1.42e-4],[1984.99,1.35e-4],[1985.14,1.42e-4],[1985.3,1.46e-4],[1985.45,1.53e-4],[1985.61,1.57e-4],[1985.76,1.46e-4],[1986.0,1.44e-4]];
const e10I = [[1982.0,1.31e-4],[1982.3,1.25e-4],[1982.4,2.2e-4],[1982.56,3.9e-4],[1982.71,9.5e-4],[1982.82,3.0e-3],[1982.92,1.2e-2],[1983.02,1.8e-2],[1983.12,2.0e-2],[1983.23,1.6e-2],[1983.39,1.3e-2],[1983.54,1.15e-2],[1983.7,9.0e-3],[1983.85,6.0e-3],[1984.01,4.3e-3],[1984.16,3.4e-3],[1984.32,2.86e-3],[1984.47,2.75e-3],[1984.63,2.33e-3],[1984.78,1.61e-3],[1984.94,1.03e-3],[1985.09,8.0e-4],[1985.25,7.1e-4],[1985.4,6.8e-4],[1985.56,6.3e-4],[1985.71,5.0e-4],[1985.9,3.3e-4],[1986.0,3.0e-4]];
const e07I = [[1982.0,1.31e-4],[1982.3,1.25e-4],[1982.4,1.85e-4],[1982.56,3.0e-4],[1982.71,6.8e-4],[1982.82,2.15e-3],[1982.92,9.4e-3],[1983.02,1.53e-2],[1983.13,1.6e-2],[1983.28,1.35e-2],[1983.44,1.2e-2],[1983.59,1.06e-2],[1983.75,8.0e-3],[1983.9,5.7e-3],[1984.06,4.1e-3],[1984.21,3.2e-3],[1984.37,2.63e-3],[1984.52,2.63e-3],[1984.63,2.33e-3],[1984.78,1.55e-3],[1984.94,1.03e-3],[1985.09,7.7e-4],[1985.25,6.8e-4],[1985.4,6.3e-4],[1985.56,5.8e-4],[1985.71,5.0e-4],[1985.9,3.0e-4],[1986.0,2.7e-4]];
const e05I = [[1982.0,1.31e-4],[1982.3,1.25e-4],[1982.45,2.1e-4],[1982.61,2.56e-4],[1982.71,4.2e-4],[1982.82,1.32e-3],[1982.92,5.7e-3],[1983.02,1.1e-2],[1983.1,1.3e-2],[1983.23,9.4e-3],[1983.39,8.0e-3],[1983.54,7.3e-3],[1983.7,5.7e-3],[1983.85,4.1e-3],[1984.01,3.2e-3],[1984.16,2.5e-3],[1984.32,1.98e-3],[1984.47,1.95e-3],[1984.63,1.55e-3],[1984.78,1.21e-3],[1984.94,8.7e-4],[1985.09,7.1e-4],[1985.25,6.3e-4],[1985.4,5.1e-4],[1985.56,5.8e-4],[1985.71,5.0e-4],[1985.9,3.85e-4],[1986.0,3.5e-4]];
const gloI = [[1982.0,3.5e-4],[1982.14,3.35e-4],[1982.25,3.7e-4],[1982.35,4.0e-4],[1982.4,4.7e-4],[1982.45,1.32e-3],[1982.56,1.43e-3],[1982.66,1.27e-3],[1982.71,1.68e-3],[1982.82,2.53e-3],[1982.92,4.1e-3],[1983.0,4.9e-3],[1983.07,4.5e-3],[1983.13,2.75e-3],[1983.23,2.86e-3],[1983.33,4.0e-3],[1983.44,4.7e-3],[1983.54,4.7e-3],[1983.64,2.86e-3],[1983.75,2.15e-3],[1983.8,1.82e-3],[1983.95,1.82e-3],[1984.11,1.68e-3],[1984.21,1.52e-3],[1984.32,1.75e-3],[1984.42,2.07e-3],[1984.52,1.82e-3],[1984.63,1.55e-3],[1984.73,1.52e-3],[1984.83,1.61e-3],[1984.94,1.57e-3],[1985.04,1.52e-3],[1985.19,1.55e-3],[1985.35,1.45e-3],[1985.5,1.43e-3],[1985.66,1.32e-3],[1985.81,8.7e-4],[1985.9,7.7e-4],[1986.0,7.0e-4]];
const sageI = [[1.07e-3,7.53e-4,1.16e-3],[1.21e-3,9.5e-4,1.55e-3],[1.29e-3,1.03e-3,1.61e-3],[1.24e-3,9.5e-4,1.61e-3],[1.21e-3,8.73e-4,1.68e-3],[1.16e-3,8.73e-4,1.49e-3],[1.07e-3,7.4e-4,1.43e-3],[1.05e-3,7.4e-4,1.37e-3],[1.07e-3,8.1e-4,1.43e-3],[1.16e-3,8.73e-4,1.43e-3],[9.48e-4,7.4e-4,1.21e-3],[7.72e-4,5.8e-4,1.07e-3],[6.3e-4,4.35e-4,9.1e-4],[5.57e-4,4.19e-4,7.1e-4],[5.2e-4,4.0e-4,6.5e-4]];
const bandsI = [
  { of: "ctl", pts: [[1982.5,1.35e-4,1.65e-4],[1982.64,1.45e-4,1.75e-4],[1982.76,1.3e-4,1.55e-4]] },
  { of: "ctl", pts: [[1985.45,1.4e-4,1.65e-4],[1985.61,1.45e-4,1.7e-4],[1985.76,1.35e-4,1.6e-4]] },
  { of: "e10", pts: [[1982.71,8e-4,1.15e-3],[1982.82,2.5e-3,3.8e-3],[1982.92,1.05e-2,1.4e-2],[1983.02,1.6e-2,2.1e-2],[1983.12,1.8e-2,2.3e-2],[1983.23,1.45e-2,1.75e-2],[1983.39,1.2e-2,1.4e-2]] },
  { of: "e05", pts: [[1982.3,1.1e-4,1.4e-4],[1982.45,1.6e-4,2.8e-4],[1982.61,1.6e-4,3.5e-4],[1982.71,2.0e-4,6e-4],[1982.82,8e-4,1.8e-3],[1982.92,4.5e-3,7.5e-3],[1983.02,9.5e-3,1.25e-2],[1983.1,1.15e-2,1.4e-2],[1983.23,8.2e-3,1.0e-2],[1983.39,6.8e-3,8.5e-3]] }
];

// ---- per-panel setup ----
const panels = [
  { tag: "(a) 28 km", ymin: 5.35e-6, lines: [ctlA, e10A, e07A, e05A, gloA], sage: sageA, bands: bandsA },
  { tag: "(b) 32 km", ymin: 5.7e-6,  lines: [ctlB, e10B, e07B, e05B, gloB], sage: sageB, bands: bandsB, note: "550 nm" },
  { tag: "(c)",       ymin: 3.0e-6,  lines: [ctlC, e10C, e07C, e05C, gloC], sage: sageC, bands: bandsC, tagLeft: true, legend: true },
  { tag: "(d) 24 km", ymin: 3.25e-5, lines: [ctlD, e10D, e07D, e05D, gloD], sage: sageD, bands: bandsD },
  { tag: "(e) 28 km", ymin: 3.25e-5, lines: [ctlE, e10E, e07E, e05E, gloE], sage: sageE, bands: bandsE },
  { tag: "(f) 24 km", ymin: 3.45e-5, lines: [ctlF, e10F, e07F, e05F, gloF], sage: sageF, bands: bandsF },
  { tag: "(g) 20 km", ymin: 1.28e-4, lines: [ctlG, e10G, e07G, e05G, gloG], sage: sageG, bands: bandsG },
  { tag: "(h) 24 km", ymin: 7.0e-5,  lines: [ctlH, e10H, e07H, e05H, gloH], sage: sageH, bands: bandsH },
  { tag: "(i) 20 km", ymin: 1.02e-4, lines: [ctlI, e10I, e07I, e05I, gloI], sage: sageI, bands: bandsI }
];

const seriesKeys = ["ctl", "e10", "e07", "e05", "glo"];
const seriesStyle = {
  ctl: { label: "Control", color: "#1cbdbd", band: "rgba(28,189,189,0.3)", width: 4 },
  e10: { label: "Elc10",   color: "#ff8c00", band: "rgba(255,140,0,0.3)",  width: 4.5 },
  e07: { label: "Elc07",   color: "#008000", band: "rgba(0,128,0,0.3)",    width: 4.5 },
  e05: { label: "Elc05",   color: "#0000ff", band: "rgba(0,0,255,0.3)",    width: 5 },
  glo: { label: "GloSAAC", color: "#ff0000", band: "rgba(255,0,0,0.3)",    width: 5.5 }
};

const FONT = '"Liberation Sans", Arial, "DejaVu Sans", sans-serif';
const MATH = '"DejaVu Sans", sans-serif';
const INK = "#262626";
const FRAME = "#3a3a3a";

Chart.defaults.font.family = FONT;
Chart.defaults.color = INK;

function isDecade(v) {
  const l = Math.log10(v);
  return Math.abs(l - Math.round(l)) < 1e-6;
}

// 1..9 x 10^k ticks between min and max
function logTicks(min, max) {
  const out = [];
  for (let k = Math.floor(Math.log10(min)); k <= Math.ceil(Math.log10(max)); k++) {
    for (let m = 1; m <= 9; m++) {
      const v = m * Math.pow(10, k);
      if (v >= min * 0.9999 && v <= max * 1.0001) out.push({ value: v });
    }
  }
  return out;
}

// error bars, frame, outward ticks, decade labels, panel tags and the legend box
const panelDecor = {
  id: "panelDecor",
  afterDatasetsDraw(chart, args, opts) {
    const { ctx, chartArea: a } = chart;
    const xs = chart.scales.x, ys = chart.scales.y;

    ctx.save();
    ctx.beginPath();
    ctx.rect(a.left, a.top, a.right - a.left, a.bottom - a.top);
    ctx.clip();
    ctx.strokeStyle = "#000";
    ctx.lineWidth = 2;
    chart.data.datasets.filter(d => d.key === "sage").forEach(d => {
      d.data.forEach(pt => {
        const px = xs.getPixelForValue(pt.x);
        ctx.beginPath();
        ctx.moveTo(px, ys.getPixelForValue(pt.lo));
        ctx.lineTo(px, ys.getPixelForValue(pt.hi));
        ctx.stroke();
      });
    });
    ctx.restore();

    ctx.save();
    ctx.strokeStyle = FRAME;
    ctx.lineWidth = 1.5;
    ctx.strokeRect(a.left, a.top, a.right - a.left, a.bottom - a.top);

    ys.ticks.forEach(t => {
      const py = Math.round(ys.getPixelForValue(t.value)) + 0.5;
      const major = isDecade(t.value);
      ctx.lineWidth = major ? 1.3 : 0.9;
      ctx.beginPath();
      ctx.moveTo(a.left - (major ? 6.5 : 3.5), py);
      ctx.lineTo(a.left, py);
      ctx.stroke();
    });
    xs.ticks.forEach(t => {
      const px = Math.round(xs.getPixelForValue(t.value)) + 0.5;
      ctx.lineWidth = 1.3;
      ctx.beginPath();
      ctx.moveTo(px, a.bottom);
      ctx.lineTo(px, a.bottom + 6.5);
      ctx.stroke();
    });

    // decade labels as 10 with a raised exponent
    if (opts.yLabels) {
      ctx.fillStyle = INK;
      ctx.textAlign = "right";
      ctx.textBaseline = "alphabetic";
      ys.ticks.filter(t => isDecade(t.value)).forEach(t => {
        const py = ys.getPixelForValue(t.value);
        const e = Math.round(Math.log10(t.value));
        const exp = (e < 0 ? "\u2212" : "") + Math.abs(e);
        const right = a.left - 12;
        ctx.font = "15px " + MATH;
        const ew = ctx.measureText(exp).width;
        ctx.fillText(exp, right, py + 1.5);
        ctx.font = "17px " + MATH;
        ctx.fillText("10", right - ew - 2, py + 6.3);
      });
    }

    ctx.fillStyle = INK;
    ctx.font = "23px " + FONT;
    ctx.textBaseline = "middle";
    const tagY = ys.getPixelForValue(1e-2) - 2;
    if (opts.tagLeft) {
      ctx.textAlign = "left";
      ctx.fillText(opts.tag, a.left + 8, tagY);
    } else {
      ctx.textAlign = "right";
      ctx.fillText(opts.tag, a.right - opts.tagInset, tagY);
    }

    if (opts.note) {
      ctx.fillStyle = "#ff0000";
      ctx.font = "26px " + FONT;
      ctx.textAlign = "left";
      ctx.fillText(opts.note, a.left + 7, a.top + 37);
    }

    if (opts.legend) {
      const cols = [["ctl", "e10", "e07"], ["e05", "glo", "sage"]];
      const markX = [49, 155], textX = [62, 170], rowY = [21, 46, 71];
      ctx.font = "17px " + FONT;
      ctx.textAlign = "left";
      cols.forEach((keys, ci) => keys.forEach((k, ri) => {
        const ds = chart.data.datasets.find(d => d.key === k);
        const cx = a.left + markX[ci], cy = a.top + rowY[ri];
        if (k === "sage") {
          ctx.strokeStyle = "#000";
          ctx.lineWidth = 2;
          ctx.beginPath();
          ctx.moveTo(cx, cy - 7);
          ctx.lineTo(cx, cy + 7);
          ctx.stroke();
          ctx.fillStyle = "#000";
          ctx.beginPath();
          ctx.arc(cx, cy, 2.6, 0, Math.PI * 2);
          ctx.fill();
        } else {
          ctx.strokeStyle = ds.borderColor;
          ctx.lineWidth = k === "glo" ? 5 : 4;
          ctx.lineCap = "round";
          ctx.beginPath();
          ctx.moveTo(cx - 2.5, cy);
          ctx.lineTo(cx + 2.5, cy);
          ctx.stroke();
          ctx.lineCap = "butt";
        }
        ctx.fillStyle = INK;
        ctx.fillText(ds.label, a.left + textX[ci], cy + 1);
      }));
    }
    ctx.restore();
  }
};

function buildDatasets(p) {
  const sets = [];
  p.bands.forEach(b => {
    sets.push({
      key: "band", data: b.pts.map(q => ({ x: q[0], y: q[1] })),
      borderColor: "transparent", borderWidth: 0, pointRadius: 0, fill: false, order: 100, clip: 0
    });
    sets.push({
      key: "band", data: b.pts.map(q => ({ x: q[0], y: q[2] })),
      borderColor: "transparent", borderWidth: 0, pointRadius: 0, fill: "-1",
      backgroundColor: seriesStyle[b.of].band, order: 100, clip: 0
    });
  });
  p.lines.forEach((line, i) => {
    const k = seriesKeys[i], st = seriesStyle[k];
    sets.push({
      key: k, label: st.label, data: line.map(q => ({ x: q[0], y: q[1] })),
      borderColor: st.color, borderWidth: st.width, pointRadius: 0, tension: 0, fill: false,
      borderJoinStyle: "round", order: 50 - i * 10, clip: 0
    });
  });
  sets.push({
    key: "sage", label: "SAGE II",
    data: sageYears.map((x, i) => ({ x: x, y: p.sage[i][0], lo: p.sage[i][1], hi: p.sage[i][2] })),
    showLine: false, pointRadius: 2.6, pointBackgroundColor: "#000", pointBorderWidth: 0,
    borderColor: "#000", order: 0, clip: 0
  });
  return sets;
}

const fig = document.getElementById("fig");
const colLeft = [0, 355, 627];
const rowTop = [0, 303, 569];
const plotW = 258, plotH = 252;

panels.forEach((p, i) => {
  const row = Math.floor(i / 3), col = i % 3;
  const axisW = col === 0 ? 113 : 30;
  const headH = row === 0 ? 42 : 4;
  const footH = row === 2 ? 40 : 10;
  const w = axisW + plotW + 2, h = headH + plotH + footH;

  const canvas = document.createElement("canvas");
  canvas.width = w; canvas.height = h;
  canvas.style.left = colLeft[col] + "px";
  canvas.style.top = rowTop[row] + "px";
  canvas.style.width = w + "px";
  canvas.style.height = h + "px";
  fig.appendChild(canvas);

  new Chart(canvas, {
    type: "line",
    data: { datasets: buildDatasets(p) },
    options: {
      responsive: false,
      animation: false,
      devicePixelRatio: 1,
      events: [],
      layout: { padding: { top: row === 0 ? 0 : 4, right: 2, left: 0, bottom: 0 } },
      scales: {
        x: {
          type: "linear", min: 1982, max: 1986,
          afterBuildTicks: s => { s.ticks = yearTicks.map(v => ({ value: v })); },
          afterFit: s => { s.height = footH; s.paddingLeft = 0; s.paddingRight = 0; },
          grid: { color: "rgba(0,0,0,0.07)", drawTicks: false },
          border: { display: false },
          ticks: {
            display: row === 2, autoSkip: false, maxRotation: 0, padding: 14,
            font: { size: 20 }, color: INK, callback: v => String(v)
          }
        },
        y: {
          type: "logarithmic", min: p.ymin, max: yTop,
          afterBuildTicks: s => { s.ticks = logTicks(p.ymin, yTop); },
          afterFit: s => { s.width = axisW; s.paddingTop = 0; s.paddingBottom = 0; },
          grid: {
            color: c => (c.tick && isDecade(c.tick.value)) ? "rgba(0,0,0,0.07)" : "rgba(0,0,0,0.035)",
            drawTicks: false
          },
          border: { display: false },
          ticks: { display: false, autoSkip: false },
          title: {
            display: col === 0, text: "ext [km\u207b\u00b9]", color: INK,
            font: { size: 22 }, padding: { top: 20, bottom: 0 }
          }
        }
      },
      plugins: {
        legend: { display: false },
        tooltip: { enabled: false },
        title: {
          display: row === 0, text: columnTitles[col], fullSize: false,
          font: { size: 26, weight: "normal" }, color: INK,
          padding: { top: 9, bottom: 1.8 }
        },
        panelDecor: {
          tag: p.tag, tagLeft: !!p.tagLeft, tagInset: col === 2 ? 13 : 7,
          note: p.note || null, legend: !!p.legend, yLabels: col === 0
        }
      }
    },
    plugins: [panelDecor]
  });
});
</script>
</body>
</html>
